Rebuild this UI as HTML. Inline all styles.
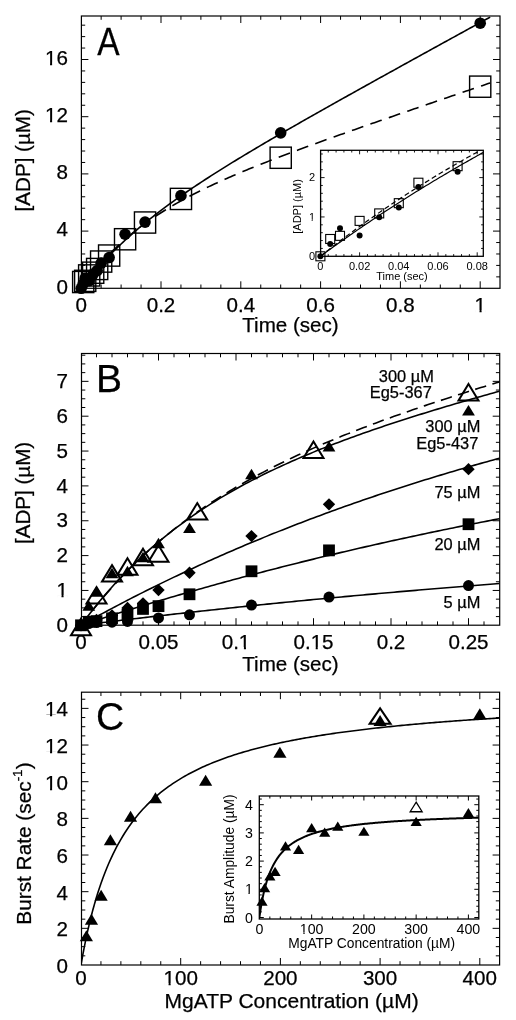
<!DOCTYPE html>
<html><head><meta charset="utf-8"><style>
html,body{margin:0;padding:0;background:#fff;}
svg{display:block;will-change:transform;}
text{font-family:"Liberation Sans", sans-serif;fill:#000;stroke:#000;stroke-width:0.25px;}
</style></head><body>
<svg width="516" height="1020" viewBox="0 0 516 1020">
<rect width="516" height="1020" fill="#fff"/>
<clipPath id="cA"><rect x="81.4" y="16" width="418.6" height="272.3"/></clipPath>
<rect x="81.4" y="16" width="418.6" height="272.3" fill="none" stroke="#000" stroke-width="1.2"/>
<path d="M101.15 288.3v-3.8M101.15 16v3.8M121.1 288.3v-3.8M121.1 16v3.8M141.05 288.3v-3.8M141.05 16v3.8M161 288.3v-7M161 16v7M180.95 288.3v-3.8M180.95 16v3.8M200.9 288.3v-3.8M200.9 16v3.8M220.85 288.3v-3.8M220.85 16v3.8M240.8 288.3v-7M240.8 16v7M260.75 288.3v-3.8M260.75 16v3.8M280.7 288.3v-3.8M280.7 16v3.8M300.65 288.3v-3.8M300.65 16v3.8M320.6 288.3v-7M320.6 16v7M340.55 288.3v-3.8M340.55 16v3.8M360.5 288.3v-3.8M360.5 16v3.8M380.45 288.3v-3.8M380.45 16v3.8M400.4 288.3v-7M400.4 16v7M420.35 288.3v-3.8M420.35 16v3.8M440.3 288.3v-3.8M440.3 16v3.8M460.25 288.3v-3.8M460.25 16v3.8M480.2 288.3v-7M480.2 16v7M81.4 276.86h3.8M500 276.86h-3.8M81.4 265.42h3.8M500 265.42h-3.8M81.4 253.98h3.8M500 253.98h-3.8M81.4 242.54h3.8M500 242.54h-3.8M81.4 231.1h7M500 231.1h-7M81.4 219.66h3.8M500 219.66h-3.8M81.4 208.22h3.8M500 208.22h-3.8M81.4 196.78h3.8M500 196.78h-3.8M81.4 185.34h3.8M500 185.34h-3.8M81.4 173.9h7M500 173.9h-7M81.4 162.46h3.8M500 162.46h-3.8M81.4 151.02h3.8M500 151.02h-3.8M81.4 139.58h3.8M500 139.58h-3.8M81.4 128.14h3.8M500 128.14h-3.8M81.4 116.7h7M500 116.7h-7M81.4 105.26h3.8M500 105.26h-3.8M81.4 93.82h3.8M500 93.82h-3.8M81.4 82.38h3.8M500 82.38h-3.8M81.4 70.94h3.8M500 70.94h-3.8M81.4 59.5h7M500 59.5h-7M81.4 48.06h3.8M500 48.06h-3.8M81.4 36.62h3.8M500 36.62h-3.8M81.4 25.18h3.8M500 25.18h-3.8" stroke="#000" stroke-width="1.0" fill="none"/>
<text x="81.2" y="312" font-size="20.6" text-anchor="middle" >0</text>
<text x="161" y="312" font-size="20.6" text-anchor="middle" >0.2</text>
<text x="240.8" y="312" font-size="20.6" text-anchor="middle" >0.4</text>
<text x="320.6" y="312" font-size="20.6" text-anchor="middle" >0.6</text>
<text x="400.4" y="312" font-size="20.6" text-anchor="middle" >0.8</text>
<text x="480.2" y="312" font-size="20.6" text-anchor="middle" >1</text>
<text x="67.9" y="293.5" font-size="20.6" text-anchor="end" >0</text>
<text x="67.9" y="236.3" font-size="20.6" text-anchor="end" >4</text>
<text x="67.9" y="179.1" font-size="20.6" text-anchor="end" >8</text>
<text x="67.9" y="121.9" font-size="20.6" text-anchor="end" >12</text>
<text x="67.9" y="64.7" font-size="20.6" text-anchor="end" >16</text>
<text x="290.5" y="332" font-size="20.6" text-anchor="middle" >Time (sec)</text>
<text x="0" y="0" font-size="20.6" text-anchor="middle" transform="translate(30.2 160.3) rotate(-90)">[ADP] (µM)</text>
<text x="0" y="0" font-size="39" text-anchor="start" transform="translate(97.3 54.6) scale(0.86 1)" stroke="#000" stroke-width="0.5">A</text>
<path d="M81.2 288.3 L83.2 285.71 L85.19 283.16 L87.19 280.66 L89.18 278.21 L91.18 275.8 L93.17 273.43 L95.17 271.1 L97.16 268.81 L99.16 266.56 L101.15 264.35 L103.15 262.17 L105.14 260.03 L107.14 257.92 L109.13 255.84 L111.12 253.8 L113.12 251.78 L115.12 249.8 L117.11 247.84 L119.11 245.91 L121.1 244 L123.09 242.13 L125.09 240.27 L127.09 238.45 L129.08 236.64 L131.07 234.86 L133.07 233.1 L135.06 231.36 L137.06 229.64 L139.06 227.94 L141.05 226.26 L143.05 224.6 L145.04 222.96 L147.04 221.34 L149.03 219.73 L151.03 218.14 L153.02 216.56 L155.01 215 L157.01 213.45 L159 211.92 L161 210.41 L163 208.9 L164.99 207.41 L166.99 205.93 L168.98 204.47 L170.98 203.01 L172.97 201.57 L174.97 200.14 L176.96 198.72 L178.95 197.31 L180.95 195.91 L182.94 194.52 L184.94 193.14 L186.94 191.77 L188.93 190.4 L190.93 189.05 L192.92 187.7 L194.92 186.37 L196.91 185.04 L198.91 183.71 L200.9 182.4 L202.89 181.09 L204.89 179.79 L206.88 178.49 L208.88 177.21 L210.88 175.92 L212.87 174.65 L214.87 173.38 L216.86 172.11 L218.86 170.85 L220.85 169.6 L222.84 168.35 L224.84 167.1 L226.83 165.87 L228.83 164.63 L230.82 163.4 L232.82 162.17 L234.81 160.95 L236.81 159.74 L238.81 158.52 L240.8 157.31 L242.8 156.11 L244.79 154.9 L246.79 153.7 L248.78 152.51 L250.77 151.32 L252.77 150.13 L254.76 148.94 L256.76 147.76 L258.75 146.58 L260.75 145.4 L262.75 144.22 L264.74 143.05 L266.74 141.88 L268.73 140.71 L270.73 139.55 L272.72 138.38 L274.71 137.22 L276.71 136.07 L278.7 134.91 L280.7 133.75 L282.69 132.6 L284.69 131.45 L286.69 130.3 L288.68 129.15 L290.68 128.01 L292.67 126.86 L294.67 125.72 L296.66 124.58 L298.66 123.44 L300.65 122.3 L302.65 121.17 L304.64 120.03 L306.64 118.9 L308.63 117.76 L310.63 116.63 L312.62 115.5 L314.62 114.37 L316.61 113.25 L318.61 112.12 L320.6 110.99 L322.59 109.87 L324.59 108.74 L326.58 107.62 L328.58 106.5 L330.57 105.38 L332.57 104.26 L334.56 103.14 L336.56 102.02 L338.56 100.9 L340.55 99.79 L342.55 98.67 L344.54 97.55 L346.54 96.44 L348.53 95.32 L350.53 94.21 L352.52 93.1 L354.51 91.98 L356.51 90.87 L358.5 89.76 L360.5 88.65 L362.49 87.54 L364.49 86.43 L366.48 85.32 L368.48 84.21 L370.47 83.1 L372.47 82 L374.46 80.89 L376.46 79.78 L378.45 78.67 L380.45 77.57 L382.44 76.46 L384.44 75.36 L386.44 74.25 L388.43 73.15 L390.43 72.04 L392.42 70.94 L394.42 69.84 L396.41 68.73 L398.41 67.63 L400.4 66.53 L402.39 65.42 L404.39 64.32 L406.38 63.22 L408.38 62.12 L410.38 61.01 L412.37 59.91 L414.36 58.81 L416.36 57.71 L418.35 56.61 L420.35 55.51 L422.34 54.41 L424.34 53.31 L426.33 52.21 L428.33 51.11 L430.32 50.01 L432.32 48.91 L434.31 47.81 L436.31 46.71 L438.31 45.61 L440.3 44.51 L442.3 43.42 L444.29 42.32 L446.29 41.22 L448.28 40.12 L450.28 39.02 L452.27 37.92 L454.26 36.83 L456.26 35.73 L458.25 34.63 L460.25 33.53 L462.25 32.44 L464.24 31.34 L466.23 30.24 L468.23 29.14 L470.22 28.05 L472.22 26.95 L474.21 25.85 L476.21 24.76 L478.2 23.66 L480.2 22.56 L482.2 21.47 L484.19 20.37 L486.19 19.27 L488.18 18.18 L490.17 17.08" stroke="#000" stroke-width="1.6" fill="none" clip-path="url(#cA)"/>
<path d="M81.2 288.3 L83.2 285.49 L85.19 282.75 L87.19 280.08 L89.18 277.46 L91.18 274.92 L93.17 272.43 L95.17 269.99 L97.16 267.62 L99.16 265.3 L101.15 263.03 L103.15 260.81 L105.14 258.64 L107.14 256.52 L109.13 254.45 L111.12 252.42 L113.12 250.43 L115.12 248.49 L117.11 246.58 L119.11 244.72 L121.1 242.89 L123.09 241.1 L125.09 239.35 L127.09 237.63 L129.08 235.94 L131.07 234.29 L133.07 232.66 L135.06 231.07 L137.06 229.51 L139.06 227.97 L141.05 226.46 L143.05 224.98 L145.04 223.53 L147.04 222.09 L149.03 220.69 L151.03 219.3 L153.02 217.94 L155.01 216.61 L157.01 215.29 L159 213.99 L161 212.71 L163 211.45 L164.99 210.22 L166.99 208.99 L168.98 207.79 L170.98 206.6 L172.97 205.43 L174.97 204.28 L176.96 203.14 L178.95 202.01 L180.95 200.9 L182.94 199.8 L184.94 198.72 L186.94 197.65 L188.93 196.59 L190.93 195.55 L192.92 194.51 L194.92 193.49 L196.91 192.48 L198.91 191.48 L200.9 190.49 L202.89 189.51 L204.89 188.53 L206.88 187.57 L208.88 186.62 L210.88 185.68 L212.87 184.74 L214.87 183.82 L216.86 182.9 L218.86 181.99 L220.85 181.08 L222.84 180.19 L224.84 179.3 L226.83 178.42 L228.83 177.54 L230.82 176.67 L232.82 175.81 L234.81 174.95 L236.81 174.1 L238.81 173.25 L240.8 172.41 L242.8 171.58 L244.79 170.75 L246.79 169.92 L248.78 169.1 L250.77 168.28 L252.77 167.47 L254.76 166.66 L256.76 165.86 L258.75 165.06 L260.75 164.27 L262.75 163.48 L264.74 162.69 L266.74 161.9 L268.73 161.12 L270.73 160.35 L272.72 159.57 L274.71 158.8 L276.71 158.03 L278.7 157.27 L280.7 156.5 L282.69 155.74 L284.69 154.99 L286.69 154.23 L288.68 153.48 L290.68 152.73 L292.67 151.98 L294.67 151.24 L296.66 150.5 L298.66 149.76 L300.65 149.02 L302.65 148.28 L304.64 147.55 L306.64 146.81 L308.63 146.08 L310.63 145.35 L312.62 144.62 L314.62 143.9 L316.61 143.17 L318.61 142.45 L320.6 141.73 L322.59 141.01 L324.59 140.29 L326.58 139.57 L328.58 138.86 L330.57 138.14 L332.57 137.43 L334.56 136.72 L336.56 136.01 L338.56 135.29 L340.55 134.59 L342.55 133.88 L344.54 133.17 L346.54 132.46 L348.53 131.76 L350.53 131.05 L352.52 130.35 L354.51 129.65 L356.51 128.95 L358.5 128.25 L360.5 127.55 L362.49 126.85 L364.49 126.15 L366.48 125.45 L368.48 124.75 L370.47 124.06 L372.47 123.36 L374.46 122.66 L376.46 121.97 L378.45 121.27 L380.45 120.58 L382.44 119.89 L384.44 119.2 L386.44 118.5 L388.43 117.81 L390.43 117.12 L392.42 116.43 L394.42 115.74 L396.41 115.05 L398.41 114.36 L400.4 113.67 L402.39 112.98 L404.39 112.29 L406.38 111.61 L408.38 110.92 L410.38 110.23 L412.37 109.54 L414.36 108.86 L416.36 108.17 L418.35 107.49 L420.35 106.8 L422.34 106.11 L424.34 105.43 L426.33 104.74 L428.33 104.06 L430.32 103.38 L432.32 102.69 L434.31 102.01 L436.31 101.32 L438.31 100.64 L440.3 99.96 L442.3 99.27 L444.29 98.59 L446.29 97.91 L448.28 97.23 L450.28 96.54 L452.27 95.86 L454.26 95.18 L456.26 94.5 L458.25 93.82 L460.25 93.13 L462.25 92.45 L464.24 91.77 L466.23 91.09 L468.23 90.41 L470.22 89.73 L472.22 89.05 L474.21 88.37 L476.21 87.69 L478.2 87.01 L480.2 86.33 L482.2 85.65 L484.19 84.97 L486.19 84.29 L488.18 83.61 L490.17 82.93" stroke="#000" stroke-width="1.6" fill="none" stroke-dasharray="12 7.5" stroke-dashoffset="-7" clip-path="url(#cA)"/>
<rect x="72.6" y="271.41" width="21.2" height="21.2" fill="none" stroke="#000" stroke-width="1.4"/>
<rect x="74.59" y="270.26" width="21.2" height="21.2" fill="none" stroke="#000" stroke-width="1.4"/>
<rect x="78.58" y="264.83" width="21.2" height="21.2" fill="none" stroke="#000" stroke-width="1.4"/>
<rect x="82.57" y="262.11" width="21.2" height="21.2" fill="none" stroke="#000" stroke-width="1.4"/>
<rect x="86.56" y="258.39" width="21.2" height="21.2" fill="none" stroke="#000" stroke-width="1.4"/>
<rect x="90.55" y="250.96" width="21.2" height="21.2" fill="none" stroke="#000" stroke-width="1.4"/>
<rect x="98.53" y="244.95" width="21.2" height="21.2" fill="none" stroke="#000" stroke-width="1.4"/>
<rect x="114.49" y="228.65" width="21.2" height="21.2" fill="none" stroke="#000" stroke-width="1.4"/>
<rect x="134.44" y="211.92" width="21.2" height="21.2" fill="none" stroke="#000" stroke-width="1.4"/>
<rect x="170.35" y="188.33" width="21.2" height="21.2" fill="none" stroke="#000" stroke-width="1.4"/>
<rect x="270.1" y="147.14" width="21.2" height="21.2" fill="none" stroke="#000" stroke-width="1.4"/>
<rect x="469.6" y="76.07" width="21.2" height="21.2" fill="none" stroke="#000" stroke-width="1.4"/>
<circle cx="81.2" cy="288.3" r="5.8" fill="#000"/>
<circle cx="83.2" cy="283.87" r="5.8" fill="#000"/>
<circle cx="85.19" cy="278.15" r="5.8" fill="#000"/>
<circle cx="89.18" cy="280.72" r="5.8" fill="#000"/>
<circle cx="93.17" cy="274.14" r="5.8" fill="#000"/>
<circle cx="97.16" cy="270.57" r="5.8" fill="#000"/>
<circle cx="101.15" cy="263.13" r="5.8" fill="#000"/>
<circle cx="109.13" cy="257.56" r="5.8" fill="#000"/>
<circle cx="125.09" cy="234.25" r="5.8" fill="#000"/>
<circle cx="145.04" cy="222.09" r="5.8" fill="#000"/>
<circle cx="180.95" cy="195.64" r="5.8" fill="#000"/>
<circle cx="280.7" cy="132.86" r="5.8" fill="#000"/>
<circle cx="480.2" cy="23.18" r="5.8" fill="#000"/>
<clipPath id="cAi"><rect x="320.6" y="150.3" width="162.7" height="106.0"/></clipPath>
<rect x="320.6" y="150.3" width="162.7" height="106" fill="#fff" stroke="#000" stroke-width="1.3"/>
<path d="M328.24 256.3v-2.2M328.24 150.3v2.2M336.08 256.3v-2.2M336.08 150.3v2.2M343.92 256.3v-2.2M343.92 150.3v2.2M351.76 256.3v-2.2M351.76 150.3v2.2M359.6 256.3v-4M359.6 150.3v4M367.44 256.3v-2.2M367.44 150.3v2.2M375.28 256.3v-2.2M375.28 150.3v2.2M383.12 256.3v-2.2M383.12 150.3v2.2M390.96 256.3v-2.2M390.96 150.3v2.2M398.8 256.3v-4M398.8 150.3v4M406.64 256.3v-2.2M406.64 150.3v2.2M414.48 256.3v-2.2M414.48 150.3v2.2M422.32 256.3v-2.2M422.32 150.3v2.2M430.16 256.3v-2.2M430.16 150.3v2.2M438 256.3v-4M438 150.3v4M445.84 256.3v-2.2M445.84 150.3v2.2M453.68 256.3v-2.2M453.68 150.3v2.2M461.52 256.3v-2.2M461.52 150.3v2.2M469.36 256.3v-2.2M469.36 150.3v2.2M477.2 256.3v-4M477.2 150.3v4M320.6 248.43h2.2M483.3 248.43h-2.2M320.6 240.56h2.2M483.3 240.56h-2.2M320.6 232.69h2.2M483.3 232.69h-2.2M320.6 224.82h2.2M483.3 224.82h-2.2M320.6 216.95h4M483.3 216.95h-4M320.6 209.08h2.2M483.3 209.08h-2.2M320.6 201.21h2.2M483.3 201.21h-2.2M320.6 193.34h2.2M483.3 193.34h-2.2M320.6 185.47h2.2M483.3 185.47h-2.2M320.6 177.6h4M483.3 177.6h-4M320.6 169.73h2.2M483.3 169.73h-2.2M320.6 161.86h2.2M483.3 161.86h-2.2M320.6 153.99h2.2M483.3 153.99h-2.2" stroke="#000" stroke-width="0.9" fill="none"/>
<text x="320.4" y="269.9" font-size="11" text-anchor="middle"  style="stroke:none">0</text>
<text x="359.6" y="269.9" font-size="11" text-anchor="middle"  style="stroke:none">0.02</text>
<text x="398.8" y="269.9" font-size="11" text-anchor="middle"  style="stroke:none">0.04</text>
<text x="438" y="269.9" font-size="11" text-anchor="middle"  style="stroke:none">0.06</text>
<text x="477.2" y="269.9" font-size="11" text-anchor="middle"  style="stroke:none">0.08</text>
<text x="315" y="260" font-size="11" text-anchor="end"  style="stroke:none">0</text>
<text x="315" y="220.65" font-size="11" text-anchor="end"  style="stroke:none">1</text>
<text x="315" y="181.3" font-size="11" text-anchor="end"  style="stroke:none">2</text>
<text x="402" y="279.5" font-size="11" text-anchor="middle"  style="stroke:none">Time (sec)</text>
<text x="0" y="0" font-size="11" text-anchor="middle" transform="translate(300.8 206.4) rotate(-90)" style="stroke:none">[ADP] (µM)</text>
<path d="M320.4 256.3 L322.36 254.86 L324.32 253.43 L326.28 252 L328.24 250.58 L330.2 249.17 L332.16 247.75 L334.12 246.35 L336.08 244.95 L338.04 243.55 L340 242.16 L341.96 240.78 L343.92 239.4 L345.88 238.02 L347.84 236.65 L349.8 235.29 L351.76 233.93 L353.72 232.57 L355.68 231.22 L357.64 229.87 L359.6 228.53 L361.56 227.2 L363.52 225.87 L365.48 224.54 L367.44 223.22 L369.4 221.9 L371.36 220.59 L373.32 219.28 L375.28 217.98 L377.24 216.68 L379.2 215.38 L381.16 214.09 L383.12 212.81 L385.08 211.53 L387.04 210.25 L389 208.98 L390.96 207.71 L392.92 206.45 L394.88 205.19 L396.84 203.93 L398.8 202.68 L400.76 201.43 L402.72 200.19 L404.68 198.95 L406.64 197.72 L408.6 196.49 L410.56 195.26 L412.52 194.04 L414.48 192.82 L416.44 191.61 L418.4 190.4 L420.36 189.19 L422.32 187.99 L424.28 186.79 L426.24 185.6 L428.2 184.41 L430.16 183.22 L432.12 182.04 L434.08 180.86 L436.04 179.68 L438 178.51 L439.96 177.34 L441.92 176.18 L443.88 175.01 L445.84 173.86 L447.8 172.7 L449.76 171.55 L451.72 170.41 L453.68 169.26 L455.64 168.12 L457.6 166.99 L459.56 165.85 L461.52 164.72 L463.48 163.6 L465.44 162.48 L467.4 161.36 L469.36 160.24 L471.32 159.13 L473.28 158.02 L475.24 156.91 L477.2 155.81 L479.16 154.71 L481.12 153.62 L483.08 152.52 L485.04 151.43 L487 150.35 L488.96 149.26 L490.92 148.18 L492.88 147.1 L494.84 146.03" stroke="#000" stroke-width="1.2" fill="none" clip-path="url(#cAi)"/>
<path d="M320.4 256.3 L322.36 254.74 L324.32 253.19 L326.28 251.64 L328.24 250.1 L330.2 248.57 L332.16 247.05 L334.12 245.53 L336.08 244.02 L338.04 242.52 L340 241.03 L341.96 239.54 L343.92 238.06 L345.88 236.59 L347.84 235.13 L349.8 233.67 L351.76 232.22 L353.72 230.77 L355.68 229.34 L357.64 227.91 L359.6 226.48 L361.56 225.07 L363.52 223.66 L365.48 222.25 L367.44 220.86 L369.4 219.47 L371.36 218.09 L373.32 216.71 L375.28 215.34 L377.24 213.98 L379.2 212.62 L381.16 211.27 L383.12 209.92 L385.08 208.59 L387.04 207.25 L389 205.93 L390.96 204.61 L392.92 203.3 L394.88 201.99 L396.84 200.69 L398.8 199.39 L400.76 198.1 L402.72 196.82 L404.68 195.54 L406.64 194.27 L408.6 193 L410.56 191.75 L412.52 190.49 L414.48 189.24 L416.44 188 L418.4 186.76 L420.36 185.53 L422.32 184.31 L424.28 183.09 L426.24 181.87 L428.2 180.66 L430.16 179.46 L432.12 178.26 L434.08 177.06 L436.04 175.88 L438 174.69 L439.96 173.52 L441.92 172.34 L443.88 171.18 L445.84 170.02 L447.8 168.86 L449.76 167.71 L451.72 166.56 L453.68 165.42 L455.64 164.28 L457.6 163.15 L459.56 162.02 L461.52 160.9 L463.48 159.78 L465.44 158.67 L467.4 157.56 L469.36 156.46 L471.32 155.36 L473.28 154.27 L475.24 153.18 L477.2 152.1 L479.16 151.02 L481.12 149.94 L483.08 148.87 L485.04 147.81 L487 146.75 L488.96 145.69 L490.92 144.64 L492.88 143.59 L494.84 142.55" stroke="#000" stroke-width="1.2" fill="none" stroke-dasharray="5 3" stroke-dashoffset="0" clip-path="url(#cAi)"/>
<rect x="315.9" y="251.8" width="9" height="9" fill="none" stroke="#000" stroke-width="1.1"/>
<rect x="325.7" y="234.49" width="9" height="9" fill="none" stroke="#000" stroke-width="1.1"/>
<rect x="335.5" y="231.34" width="9" height="9" fill="none" stroke="#000" stroke-width="1.1"/>
<rect x="355.1" y="216.39" width="9" height="9" fill="none" stroke="#000" stroke-width="1.1"/>
<rect x="374.7" y="208.91" width="9" height="9" fill="none" stroke="#000" stroke-width="1.1"/>
<rect x="394.3" y="198.68" width="9" height="9" fill="none" stroke="#000" stroke-width="1.1"/>
<rect x="413.9" y="178.22" width="9" height="9" fill="none" stroke="#000" stroke-width="1.1"/>
<rect x="453.1" y="161.69" width="9" height="9" fill="none" stroke="#000" stroke-width="1.1"/>
<circle cx="320.4" cy="256.3" r="3" fill="#000"/>
<circle cx="330.2" cy="244.1" r="3" fill="#000"/>
<circle cx="340" cy="228.36" r="3" fill="#000"/>
<circle cx="359.6" cy="235.44" r="3" fill="#000"/>
<circle cx="379.2" cy="217.34" r="3" fill="#000"/>
<circle cx="398.8" cy="207.51" r="3" fill="#000"/>
<circle cx="418.4" cy="187.04" r="3" fill="#000"/>
<circle cx="457.6" cy="171.7" r="3" fill="#000"/>
<clipPath id="cB"><rect x="81.5" y="353.5" width="418.2" height="271.70000000000005"/></clipPath>
<rect x="81.5" y="353.5" width="418.2" height="271.7" fill="none" stroke="#000" stroke-width="1.2"/>
<path d="M96.5 625.2v-3.8M96.5 353.5v3.8M112 625.2v-3.8M112 353.5v3.8M127.5 625.2v-3.8M127.5 353.5v3.8M143 625.2v-3.8M143 353.5v3.8M158.5 625.2v-7M158.5 353.5v7M174 625.2v-3.8M174 353.5v3.8M189.5 625.2v-3.8M189.5 353.5v3.8M205 625.2v-3.8M205 353.5v3.8M220.5 625.2v-3.8M220.5 353.5v3.8M236 625.2v-7M236 353.5v7M251.5 625.2v-3.8M251.5 353.5v3.8M267 625.2v-3.8M267 353.5v3.8M282.5 625.2v-3.8M282.5 353.5v3.8M298 625.2v-3.8M298 353.5v3.8M313.5 625.2v-7M313.5 353.5v7M329 625.2v-3.8M329 353.5v3.8M344.5 625.2v-3.8M344.5 353.5v3.8M360 625.2v-3.8M360 353.5v3.8M375.5 625.2v-3.8M375.5 353.5v3.8M391 625.2v-7M391 353.5v7M406.5 625.2v-3.8M406.5 353.5v3.8M422 625.2v-3.8M422 353.5v3.8M437.5 625.2v-3.8M437.5 353.5v3.8M453 625.2v-3.8M453 353.5v3.8M468.5 625.2v-7M468.5 353.5v7M484 625.2v-3.8M484 353.5v3.8M81.5 616.59h3.8M499.7 616.59h-3.8M81.5 607.88h3.8M499.7 607.88h-3.8M81.5 599.16h3.8M499.7 599.16h-3.8M81.5 590.45h7M499.7 590.45h-7M81.5 581.74h3.8M499.7 581.74h-3.8M81.5 573.02h3.8M499.7 573.02h-3.8M81.5 564.31h3.8M499.7 564.31h-3.8M81.5 555.6h7M499.7 555.6h-7M81.5 546.89h3.8M499.7 546.89h-3.8M81.5 538.17h3.8M499.7 538.17h-3.8M81.5 529.46h3.8M499.7 529.46h-3.8M81.5 520.75h7M499.7 520.75h-7M81.5 512.04h3.8M499.7 512.04h-3.8M81.5 503.32h3.8M499.7 503.32h-3.8M81.5 494.61h3.8M499.7 494.61h-3.8M81.5 485.9h7M499.7 485.9h-7M81.5 477.19h3.8M499.7 477.19h-3.8M81.5 468.47h3.8M499.7 468.47h-3.8M81.5 459.76h3.8M499.7 459.76h-3.8M81.5 451.05h7M499.7 451.05h-7M81.5 442.34h3.8M499.7 442.34h-3.8M81.5 433.62h3.8M499.7 433.62h-3.8M81.5 424.91h3.8M499.7 424.91h-3.8M81.5 416.2h7M499.7 416.2h-7M81.5 407.49h3.8M499.7 407.49h-3.8M81.5 398.77h3.8M499.7 398.77h-3.8M81.5 390.06h3.8M499.7 390.06h-3.8M81.5 381.35h7M499.7 381.35h-7M81.5 372.64h3.8M499.7 372.64h-3.8M81.5 363.92h3.8M499.7 363.92h-3.8M81.5 355.21h3.8M499.7 355.21h-3.8" stroke="#000" stroke-width="1.0" fill="none"/>
<text x="81" y="649" font-size="20.6" text-anchor="middle" >0</text>
<text x="158.5" y="649" font-size="20.6" text-anchor="middle" >0.05</text>
<text x="236" y="649" font-size="20.6" text-anchor="middle" >0.1</text>
<text x="313.5" y="649" font-size="20.6" text-anchor="middle" >0.15</text>
<text x="391" y="649" font-size="20.6" text-anchor="middle" >0.2</text>
<text x="468.5" y="649" font-size="20.6" text-anchor="middle" >0.25</text>
<text x="67.9" y="631.9" font-size="20.6" text-anchor="end" >0</text>
<text x="67.9" y="597.05" font-size="20.6" text-anchor="end" >1</text>
<text x="67.9" y="562.2" font-size="20.6" text-anchor="end" >2</text>
<text x="67.9" y="527.35" font-size="20.6" text-anchor="end" >3</text>
<text x="67.9" y="492.5" font-size="20.6" text-anchor="end" >4</text>
<text x="67.9" y="457.65" font-size="20.6" text-anchor="end" >5</text>
<text x="67.9" y="422.8" font-size="20.6" text-anchor="end" >6</text>
<text x="67.9" y="387.95" font-size="20.6" text-anchor="end" >7</text>
<text x="290.5" y="671.4" font-size="20.6" text-anchor="middle" >Time (sec)</text>
<text x="0" y="0" font-size="20.6" text-anchor="middle" transform="translate(30 492.9) rotate(-90)">[ADP] (µM)</text>
<text x="96" y="391.6" font-size="39" text-anchor="start" stroke="#000" stroke-width="0.4">B</text>
<path d="M81 625.3 L84.1 624.91 L87.2 624.52 L90.3 624.13 L93.4 623.74 L96.5 623.35 L99.6 622.97 L102.7 622.58 L105.8 622.2 L108.9 621.82 L112 621.44 L115.1 621.06 L118.2 620.69 L121.3 620.31 L124.4 619.94 L127.5 619.57 L130.6 619.19 L133.7 618.82 L136.8 618.46 L139.9 618.09 L143 617.72 L146.1 617.36 L149.2 617 L152.3 616.63 L155.4 616.27 L158.5 615.92 L161.6 615.56 L164.7 615.2 L167.8 614.85 L170.9 614.49 L174 614.14 L177.1 613.79 L180.2 613.44 L183.3 613.09 L186.4 612.75 L189.5 612.4 L192.6 612.05 L195.7 611.71 L198.8 611.37 L201.9 611.03 L205 610.69 L208.1 610.35 L211.2 610.01 L214.3 609.68 L217.4 609.34 L220.5 609.01 L223.6 608.68 L226.7 608.35 L229.8 608.02 L232.9 607.69 L236 607.36 L239.1 607.04 L242.2 606.71 L245.3 606.39 L248.4 606.07 L251.5 605.75 L254.6 605.43 L257.7 605.11 L260.8 604.79 L263.9 604.47 L267 604.16 L270.1 603.84 L273.2 603.53 L276.3 603.22 L279.4 602.91 L282.5 602.6 L285.6 602.29 L288.7 601.98 L291.8 601.68 L294.9 601.37 L298 601.07 L301.1 600.77 L304.2 600.47 L307.3 600.17 L310.4 599.87 L313.5 599.57 L316.6 599.27 L319.7 598.98 L322.8 598.68 L325.9 598.39 L329 598.09 L332.1 597.8 L335.2 597.51 L338.3 597.22 L341.4 596.93 L344.5 596.65 L347.6 596.36 L350.7 596.08 L353.8 595.79 L356.9 595.51 L360 595.23 L363.1 594.95 L366.2 594.67 L369.3 594.39 L372.4 594.11 L375.5 593.83 L378.6 593.56 L381.7 593.28 L384.8 593.01 L387.9 592.74 L391 592.46 L394.1 592.19 L397.2 591.92 L400.3 591.65 L403.4 591.39 L406.5 591.12 L409.6 590.85 L412.7 590.59 L415.8 590.33 L418.9 590.06 L422 589.8 L425.1 589.54 L428.2 589.28 L431.3 589.02 L434.4 588.76 L437.5 588.51 L440.6 588.25 L443.7 588 L446.8 587.74 L449.9 587.49 L453 587.24 L456.1 586.99 L459.2 586.73 L462.3 586.49 L465.4 586.24 L468.5 585.99 L471.6 585.74 L474.7 585.5 L477.8 585.25 L480.9 585.01 L484 584.76 L487.1 584.52 L490.2 584.28 L493.3 584.04 L496.4 583.8 L499.5 583.56" stroke="#000" stroke-width="1.6" fill="none" clip-path="url(#cB)"/>
<path d="M81 625.3 L84.1 624.28 L87.2 623.27 L90.3 622.25 L93.4 621.25 L96.5 620.24 L99.6 619.24 L102.7 618.25 L105.8 617.26 L108.9 616.27 L112 615.29 L115.1 614.31 L118.2 613.33 L121.3 612.36 L124.4 611.39 L127.5 610.43 L130.6 609.47 L133.7 608.51 L136.8 607.56 L139.9 606.61 L143 605.67 L146.1 604.72 L149.2 603.79 L152.3 602.85 L155.4 601.92 L158.5 601 L161.6 600.07 L164.7 599.16 L167.8 598.24 L170.9 597.33 L174 596.42 L177.1 595.52 L180.2 594.62 L183.3 593.72 L186.4 592.83 L189.5 591.94 L192.6 591.05 L195.7 590.17 L198.8 589.29 L201.9 588.41 L205 587.54 L208.1 586.67 L211.2 585.8 L214.3 584.94 L217.4 584.08 L220.5 583.23 L223.6 582.38 L226.7 581.53 L229.8 580.68 L232.9 579.84 L236 579 L239.1 578.17 L242.2 577.34 L245.3 576.51 L248.4 575.68 L251.5 574.86 L254.6 574.04 L257.7 573.23 L260.8 572.42 L263.9 571.61 L267 570.8 L270.1 570 L273.2 569.2 L276.3 568.4 L279.4 567.61 L282.5 566.82 L285.6 566.04 L288.7 565.25 L291.8 564.47 L294.9 563.7 L298 562.92 L301.1 562.15 L304.2 561.38 L307.3 560.62 L310.4 559.86 L313.5 559.1 L316.6 558.34 L319.7 557.59 L322.8 556.84 L325.9 556.09 L329 555.35 L332.1 554.61 L335.2 553.87 L338.3 553.14 L341.4 552.4 L344.5 551.68 L347.6 550.95 L350.7 550.23 L353.8 549.51 L356.9 548.79 L360 548.07 L363.1 547.36 L366.2 546.65 L369.3 545.95 L372.4 545.24 L375.5 544.54 L378.6 543.85 L381.7 543.15 L384.8 542.46 L387.9 541.77 L391 541.08 L394.1 540.4 L397.2 539.72 L400.3 539.04 L403.4 538.36 L406.5 537.69 L409.6 537.02 L412.7 536.35 L415.8 535.69 L418.9 535.03 L422 534.37 L425.1 533.71 L428.2 533.06 L431.3 532.4 L434.4 531.75 L437.5 531.11 L440.6 530.46 L443.7 529.82 L446.8 529.18 L449.9 528.55 L453 527.91 L456.1 527.28 L459.2 526.65 L462.3 526.03 L465.4 525.4 L468.5 524.78 L471.6 524.16 L474.7 523.55 L477.8 522.93 L480.9 522.32 L484 521.71 L487.1 521.1 L490.2 520.5 L493.3 519.9 L496.4 519.3 L499.5 518.7" stroke="#000" stroke-width="1.6" fill="none" clip-path="url(#cB)"/>
<path d="M81 625.3 L84.1 623.57 L87.2 621.84 L90.3 620.13 L93.4 618.42 L96.5 616.73 L99.6 615.04 L102.7 613.36 L105.8 611.69 L108.9 610.03 L112 608.38 L115.1 606.74 L118.2 605.1 L121.3 603.48 L124.4 601.86 L127.5 600.25 L130.6 598.65 L133.7 597.06 L136.8 595.48 L139.9 593.91 L143 592.34 L146.1 590.78 L149.2 589.24 L152.3 587.7 L155.4 586.16 L158.5 584.64 L161.6 583.12 L164.7 581.61 L167.8 580.11 L170.9 578.62 L174 577.14 L177.1 575.66 L180.2 574.19 L183.3 572.73 L186.4 571.28 L189.5 569.84 L192.6 568.4 L195.7 566.97 L198.8 565.55 L201.9 564.13 L205 562.73 L208.1 561.33 L211.2 559.94 L214.3 558.55 L217.4 557.18 L220.5 555.81 L223.6 554.44 L226.7 553.09 L229.8 551.74 L232.9 550.4 L236 549.07 L239.1 547.74 L242.2 546.42 L245.3 545.11 L248.4 543.8 L251.5 542.51 L254.6 541.21 L257.7 539.93 L260.8 538.65 L263.9 537.38 L267 536.12 L270.1 534.86 L273.2 533.61 L276.3 532.37 L279.4 531.13 L282.5 529.9 L285.6 528.67 L288.7 527.46 L291.8 526.25 L294.9 525.04 L298 523.84 L301.1 522.65 L304.2 521.47 L307.3 520.29 L310.4 519.11 L313.5 517.95 L316.6 516.79 L319.7 515.63 L322.8 514.48 L325.9 513.34 L329 512.21 L332.1 511.08 L335.2 509.95 L338.3 508.84 L341.4 507.72 L344.5 506.62 L347.6 505.52 L350.7 504.42 L353.8 503.34 L356.9 502.25 L360 501.18 L363.1 500.11 L366.2 499.04 L369.3 497.98 L372.4 496.93 L375.5 495.88 L378.6 494.84 L381.7 493.8 L384.8 492.77 L387.9 491.74 L391 490.72 L394.1 489.71 L397.2 488.7 L400.3 487.69 L403.4 486.69 L406.5 485.7 L409.6 484.71 L412.7 483.73 L415.8 482.75 L418.9 481.78 L422 480.81 L425.1 479.85 L428.2 478.89 L431.3 477.94 L434.4 476.99 L437.5 476.05 L440.6 475.11 L443.7 474.18 L446.8 473.26 L449.9 472.33 L453 471.42 L456.1 470.51 L459.2 469.6 L462.3 468.7 L465.4 467.8 L468.5 466.9 L471.6 466.02 L474.7 465.13 L477.8 464.26 L480.9 463.38 L484 462.51 L487.1 461.65 L490.2 460.79 L493.3 459.93 L496.4 459.08 L499.5 458.23" stroke="#000" stroke-width="1.6" fill="none" clip-path="url(#cB)"/>
<path d="M81 625.3 L84.1 621.1 L87.2 616.98 L90.3 612.95 L93.4 609 L96.5 605.14 L99.6 601.35 L102.7 597.63 L105.8 594 L108.9 590.43 L112 586.94 L115.1 583.51 L118.2 580.15 L121.3 576.86 L124.4 573.63 L127.5 570.46 L130.6 567.36 L133.7 564.31 L136.8 561.32 L139.9 558.39 L143 555.51 L146.1 552.69 L149.2 549.92 L152.3 547.2 L155.4 544.53 L158.5 541.9 L161.6 539.33 L164.7 536.8 L167.8 534.31 L170.9 531.87 L174 529.47 L177.1 527.12 L180.2 524.8 L183.3 522.52 L186.4 520.28 L189.5 518.08 L192.6 515.91 L195.7 513.78 L198.8 511.69 L201.9 509.63 L205 507.6 L208.1 505.6 L211.2 503.64 L214.3 501.71 L217.4 499.8 L220.5 497.93 L223.6 496.08 L226.7 494.26 L229.8 492.47 L232.9 490.7 L236 488.96 L239.1 487.24 L242.2 485.55 L245.3 483.89 L248.4 482.24 L251.5 480.62 L254.6 479.02 L257.7 477.44 L260.8 475.88 L263.9 474.34 L267 472.83 L270.1 471.33 L273.2 469.85 L276.3 468.39 L279.4 466.94 L282.5 465.52 L285.6 464.11 L288.7 462.71 L291.8 461.34 L294.9 459.98 L298 458.63 L301.1 457.3 L304.2 455.98 L307.3 454.68 L310.4 453.4 L313.5 452.12 L316.6 450.86 L319.7 449.61 L322.8 448.38 L325.9 447.15 L329 445.94 L332.1 444.74 L335.2 443.55 L338.3 442.38 L341.4 441.21 L344.5 440.05 L347.6 438.91 L350.7 437.77 L353.8 436.64 L356.9 435.53 L360 434.42 L363.1 433.32 L366.2 432.23 L369.3 431.15 L372.4 430.07 L375.5 429.01 L378.6 427.95 L381.7 426.9 L384.8 425.86 L387.9 424.83 L391 423.8 L394.1 422.78 L397.2 421.76 L400.3 420.76 L403.4 419.76 L406.5 418.76 L409.6 417.77 L412.7 416.79 L415.8 415.81 L418.9 414.84 L422 413.88 L425.1 412.92 L428.2 411.96 L431.3 411.02 L434.4 410.07 L437.5 409.13 L440.6 408.2 L443.7 407.27 L446.8 406.34 L449.9 405.42 L453 404.5 L456.1 403.59 L459.2 402.68 L462.3 401.78 L465.4 400.88 L468.5 399.98 L471.6 399.09 L474.7 398.2 L477.8 397.31 L480.9 396.43 L484 395.55 L487.1 394.67 L490.2 393.8 L493.3 392.93 L496.4 392.06 L499.5 391.2" stroke="#000" stroke-width="1.6" fill="none" clip-path="url(#cB)"/>
<path d="M81 625.3 L84.1 621.17 L87.2 617.12 L90.3 613.15 L93.4 609.26 L96.5 605.44 L99.6 601.69 L102.7 598.01 L105.8 594.39 L108.9 590.85 L112 587.37 L115.1 583.95 L118.2 580.6 L121.3 577.31 L124.4 574.07 L127.5 570.9 L130.6 567.78 L133.7 564.71 L136.8 561.7 L139.9 558.74 L143 555.83 L146.1 552.98 L149.2 550.17 L152.3 547.41 L155.4 544.69 L158.5 542.02 L161.6 539.4 L164.7 536.82 L167.8 534.28 L170.9 531.78 L174 529.32 L177.1 526.9 L180.2 524.52 L183.3 522.18 L186.4 519.87 L189.5 517.6 L192.6 515.36 L195.7 513.16 L198.8 510.99 L201.9 508.85 L205 506.75 L208.1 504.67 L211.2 502.63 L214.3 500.61 L217.4 498.63 L220.5 496.67 L223.6 494.74 L226.7 492.83 L229.8 490.96 L232.9 489.1 L236 487.27 L239.1 485.47 L242.2 483.69 L245.3 481.93 L248.4 480.2 L251.5 478.49 L254.6 476.79 L257.7 475.12 L260.8 473.47 L263.9 471.84 L267 470.23 L270.1 468.64 L273.2 467.07 L276.3 465.51 L279.4 463.98 L282.5 462.46 L285.6 460.95 L288.7 459.47 L291.8 457.99 L294.9 456.54 L298 455.1 L301.1 453.67 L304.2 452.26 L307.3 450.87 L310.4 449.49 L313.5 448.12 L316.6 446.76 L319.7 445.42 L322.8 444.09 L325.9 442.77 L329 441.47 L332.1 440.17 L335.2 438.89 L338.3 437.62 L341.4 436.36 L344.5 435.11 L347.6 433.87 L350.7 432.64 L353.8 431.42 L356.9 430.21 L360 429.01 L363.1 427.82 L366.2 426.64 L369.3 425.46 L372.4 424.3 L375.5 423.14 L378.6 421.99 L381.7 420.85 L384.8 419.72 L387.9 418.6 L391 417.48 L394.1 416.37 L397.2 415.26 L400.3 414.17 L403.4 413.08 L406.5 411.99 L409.6 410.92 L412.7 409.85 L415.8 408.78 L418.9 407.72 L422 406.67 L425.1 405.63 L428.2 404.58 L431.3 403.55 L434.4 402.52 L437.5 401.49 L440.6 400.47 L443.7 399.46 L446.8 398.44 L449.9 397.44 L453 396.44 L456.1 395.44 L459.2 394.45 L462.3 393.46 L465.4 392.47 L468.5 391.49 L471.6 390.52 L474.7 389.54 L477.8 388.57 L480.9 387.61 L484 386.65 L487.1 385.69 L490.2 384.74 L493.3 383.78 L496.4 382.84 L499.5 381.89" stroke="#000" stroke-width="1.6" fill="none" stroke-dasharray="11.5 6.5" stroke-dashoffset="0" clip-path="url(#cB)"/>
<text x="433.8" y="381.7" font-size="16.4" text-anchor="end" >300 µM</text>
<text x="431.8" y="397.7" font-size="16.4" text-anchor="end" >Eg5-367</text>
<text x="480.3" y="432.4" font-size="16.4" text-anchor="end" >300 µM</text>
<text x="478.3" y="448.8" font-size="16.4" text-anchor="end" >Eg5-437</text>
<text x="480.3" y="497.6" font-size="16.4" text-anchor="end" >75 µM</text>
<text x="480.3" y="550.2" font-size="16.4" text-anchor="end" >20 µM</text>
<text x="480.3" y="607.6" font-size="16.4" text-anchor="end" >5 µM</text>
<circle cx="81" cy="625.3" r="5.5" fill="#000"/>
<circle cx="88.75" cy="623.56" r="5.5" fill="#000"/>
<circle cx="96.5" cy="622.51" r="5.5" fill="#000"/>
<circle cx="112" cy="622.16" r="5.5" fill="#000"/>
<circle cx="127.5" cy="621.47" r="5.5" fill="#000"/>
<circle cx="158.5" cy="617.98" r="5.5" fill="#000"/>
<circle cx="189.5" cy="614.84" r="5.5" fill="#000"/>
<circle cx="251.5" cy="605.09" r="5.5" fill="#000"/>
<circle cx="329" cy="597.07" r="5.5" fill="#000"/>
<circle cx="468.5" cy="585.57" r="5.5" fill="#000"/>
<rect x="75.1" y="619.4" width="11.8" height="11.8" fill="#000"/>
<rect x="82.85" y="615.91" width="11.8" height="11.8" fill="#000"/>
<rect x="90.6" y="615.22" width="11.8" height="11.8" fill="#000"/>
<rect x="106.1" y="612.43" width="11.8" height="11.8" fill="#000"/>
<rect x="121.6" y="608.94" width="11.8" height="11.8" fill="#000"/>
<rect x="137.1" y="603.02" width="11.8" height="11.8" fill="#000"/>
<rect x="152.6" y="600.23" width="11.8" height="11.8" fill="#000"/>
<rect x="183.6" y="588.38" width="11.8" height="11.8" fill="#000"/>
<rect x="245.6" y="565.38" width="11.8" height="11.8" fill="#000"/>
<rect x="323.1" y="544.47" width="11.8" height="11.8" fill="#000"/>
<rect x="462.6" y="518.33" width="11.8" height="11.8" fill="#000"/>
<polygon points="81,619.1 87.2,625.3 81,631.5 74.8,625.3" fill="#000"/>
<polygon points="88.75,614.92 94.95,621.12 88.75,627.32 82.55,621.12" fill="#000"/>
<polygon points="96.5,613.87 102.7,620.07 96.5,626.27 90.3,620.07" fill="#000"/>
<polygon points="112,609.34 118.2,615.54 112,621.74 105.8,615.54" fill="#000"/>
<polygon points="127.5,601.67 133.7,607.88 127.5,614.08 121.3,607.88" fill="#000"/>
<polygon points="143,597.14 149.2,603.34 143,609.54 136.8,603.34" fill="#000"/>
<polygon points="158.5,583.9 164.7,590.1 158.5,596.3 152.3,590.1" fill="#000"/>
<polygon points="189.5,566.48 195.7,572.68 189.5,578.88 183.3,572.68" fill="#000"/>
<polygon points="251.5,529.88 257.7,536.08 251.5,542.28 245.3,536.08" fill="#000"/>
<polygon points="329,498.17 335.2,504.37 329,510.57 322.8,504.37" fill="#000"/>
<polygon points="468.5,462.97 474.7,469.17 468.5,475.37 462.3,469.17" fill="#000"/>
<polygon points="81,620 87.4,630.6 74.6,630.6" fill="#000"/>
<polygon points="88.75,600.14 95.15,610.74 82.35,610.74" fill="#000"/>
<polygon points="96.5,586.2 102.9,596.8 90.1,596.8" fill="#000"/>
<polygon points="112,567.73 118.4,578.32 105.6,578.32" fill="#000"/>
<polygon points="127.5,565.63 133.9,576.23 121.1,576.23" fill="#000"/>
<polygon points="143,551.69 149.4,562.29 136.6,562.29" fill="#000"/>
<polygon points="158.5,537.75 164.9,548.35 152.1,548.35" fill="#000"/>
<polygon points="189.5,522.42 195.9,533.02 183.1,533.02" fill="#000"/>
<polygon points="251.5,468.75 257.9,479.35 245.1,479.35" fill="#000"/>
<polygon points="329,440.87 335.4,451.47 322.6,451.47" fill="#000"/>
<polygon points="468.5,404.98 474.9,415.58 462.1,415.58" fill="#000"/>
<polygon points="81,618.79 91,635.29 71,635.29" fill="none" stroke="#000" stroke-width="2" stroke-linejoin="miter"/>
<polygon points="96.5,587.08 106.5,603.58 86.5,603.58" fill="none" stroke="#000" stroke-width="2" stroke-linejoin="miter"/>
<polygon points="112,565.12 122,581.62 102,581.62" fill="none" stroke="#000" stroke-width="2" stroke-linejoin="miter"/>
<polygon points="127.5,558.15 137.5,574.65 117.5,574.65" fill="none" stroke="#000" stroke-width="2" stroke-linejoin="miter"/>
<polygon points="143,548.74 153,565.24 133,565.24" fill="none" stroke="#000" stroke-width="2" stroke-linejoin="miter"/>
<polygon points="158.5,545.26 168.5,561.76 148.5,561.76" fill="none" stroke="#000" stroke-width="2" stroke-linejoin="miter"/>
<polygon points="197.25,503.09 207.25,519.59 187.25,519.59" fill="none" stroke="#000" stroke-width="2" stroke-linejoin="miter"/>
<polygon points="313.5,441.41 323.5,457.91 303.5,457.91" fill="none" stroke="#000" stroke-width="2" stroke-linejoin="miter"/>
<polygon points="468.5,383.9 478.5,400.4 458.5,400.4" fill="none" stroke="#000" stroke-width="2" stroke-linejoin="miter"/>
<clipPath id="cC"><rect x="81.5" y="692.2" width="418.1" height="272.79999999999995"/></clipPath>
<rect x="81.5" y="692.2" width="418.1" height="272.8" fill="none" stroke="#000" stroke-width="1.2"/>
<path d="M100.94 965v-3.8M100.94 692.2v3.8M120.88 965v-3.8M120.88 692.2v3.8M140.82 965v-3.8M140.82 692.2v3.8M160.76 965v-3.8M160.76 692.2v3.8M180.7 965v-7M180.7 692.2v7M200.64 965v-3.8M200.64 692.2v3.8M220.58 965v-3.8M220.58 692.2v3.8M240.52 965v-3.8M240.52 692.2v3.8M260.46 965v-3.8M260.46 692.2v3.8M280.4 965v-7M280.4 692.2v7M300.34 965v-3.8M300.34 692.2v3.8M320.28 965v-3.8M320.28 692.2v3.8M340.22 965v-3.8M340.22 692.2v3.8M360.16 965v-3.8M360.16 692.2v3.8M380.1 965v-7M380.1 692.2v7M400.04 965v-3.8M400.04 692.2v3.8M419.98 965v-3.8M419.98 692.2v3.8M439.92 965v-3.8M439.92 692.2v3.8M459.86 965v-3.8M459.86 692.2v3.8M479.8 965v-7M479.8 692.2v7M81.5 955.84h3.8M499.6 955.84h-3.8M81.5 946.67h3.8M499.6 946.67h-3.8M81.5 937.5h3.8M499.6 937.5h-3.8M81.5 928.34h7M499.6 928.34h-7M81.5 919.17h3.8M499.6 919.17h-3.8M81.5 910.01h3.8M499.6 910.01h-3.8M81.5 900.85h3.8M499.6 900.85h-3.8M81.5 891.68h7M499.6 891.68h-7M81.5 882.51h3.8M499.6 882.51h-3.8M81.5 873.35h3.8M499.6 873.35h-3.8M81.5 864.18h3.8M499.6 864.18h-3.8M81.5 855.02h7M499.6 855.02h-7M81.5 845.86h3.8M499.6 845.86h-3.8M81.5 836.69h3.8M499.6 836.69h-3.8M81.5 827.52h3.8M499.6 827.52h-3.8M81.5 818.36h7M499.6 818.36h-7M81.5 809.2h3.8M499.6 809.2h-3.8M81.5 800.03h3.8M499.6 800.03h-3.8M81.5 790.87h3.8M499.6 790.87h-3.8M81.5 781.7h7M499.6 781.7h-7M81.5 772.54h3.8M499.6 772.54h-3.8M81.5 763.37h3.8M499.6 763.37h-3.8M81.5 754.21h3.8M499.6 754.21h-3.8M81.5 745.04h7M499.6 745.04h-7M81.5 735.88h3.8M499.6 735.88h-3.8M81.5 726.71h3.8M499.6 726.71h-3.8M81.5 717.55h3.8M499.6 717.55h-3.8M81.5 708.38h7M499.6 708.38h-7M81.5 699.22h3.8M499.6 699.22h-3.8" stroke="#000" stroke-width="1.0" fill="none"/>
<text x="81" y="985" font-size="20.6" text-anchor="middle" >0</text>
<text x="180.7" y="985" font-size="20.6" text-anchor="middle" >100</text>
<text x="280.4" y="985" font-size="20.6" text-anchor="middle" >200</text>
<text x="380.1" y="985" font-size="20.6" text-anchor="middle" >300</text>
<text x="479.8" y="985" font-size="20.6" text-anchor="middle" >400</text>
<text x="67.9" y="973.1" font-size="20.6" text-anchor="end" >0</text>
<text x="67.9" y="936.44" font-size="20.6" text-anchor="end" >2</text>
<text x="67.9" y="899.78" font-size="20.6" text-anchor="end" >4</text>
<text x="67.9" y="863.12" font-size="20.6" text-anchor="end" >6</text>
<text x="67.9" y="826.46" font-size="20.6" text-anchor="end" >8</text>
<text x="67.9" y="789.8" font-size="20.6" text-anchor="end" >10</text>
<text x="67.9" y="753.14" font-size="20.6" text-anchor="end" >12</text>
<text x="67.9" y="716.48" font-size="20.6" text-anchor="end" >14</text>
<text x="291.6" y="1007.5" font-size="21" text-anchor="middle" >MgATP Concentration (µM)</text>
<text x="0" y="0" font-size="20.8" text-anchor="start" transform="translate(31.2 924.7) rotate(-90)">Burst Rate (sec<tspan font-size="13.5" dy="-9.5">-1</tspan><tspan dy="9.5">)</tspan></text>
<text x="95.9" y="730.3" font-size="39" text-anchor="start" stroke="#000" stroke-width="0.4">C</text>
<path d="M81 965 L81.5 962.14 L82 959.33 L82.5 956.58 L82.99 953.89 L83.49 951.25 L83.99 948.67 L84.49 946.13 L84.99 943.64 L85.49 941.21 L85.98 938.81 L86.48 936.47 L86.98 934.16 L87.48 931.9 L87.98 929.69 L88.48 927.51 L88.98 925.37 L89.47 923.27 L89.97 921.2 L90.47 919.17 L90.97 917.18 L91.47 915.22 L91.97 913.3 L92.47 911.41 L92.96 909.55 L93.46 907.72 L93.96 905.92 L94.46 904.15 L94.96 902.41 L95.46 900.7 L95.95 899.01 L96.45 897.35 L96.95 895.72 L97.45 894.11 L97.95 892.53 L98.45 890.98 L98.95 889.44 L99.44 887.93 L99.94 886.44 L100.44 884.98 L100.94 883.53 L102.93 877.97 L104.93 872.71 L106.92 867.74 L108.92 863.03 L110.91 858.57 L112.9 854.33 L114.9 850.3 L116.89 846.46 L118.89 842.8 L120.88 839.31 L122.87 835.97 L124.87 832.78 L126.86 829.73 L128.86 826.81 L130.85 824 L132.84 821.31 L134.84 818.72 L136.83 816.23 L138.83 813.84 L140.82 811.54 L142.81 809.32 L144.81 807.18 L146.8 805.12 L148.8 803.12 L150.79 801.2 L152.78 799.34 L154.78 797.54 L156.77 795.8 L158.77 794.11 L160.76 792.48 L162.75 790.9 L164.75 789.37 L166.74 787.88 L168.74 786.43 L170.73 785.03 L172.72 783.67 L174.72 782.35 L176.71 781.06 L178.71 779.81 L180.7 778.59 L182.69 777.41 L184.69 776.26 L186.68 775.13 L188.68 774.04 L190.67 772.97 L192.66 771.93 L194.66 770.92 L196.65 769.93 L198.65 768.96 L200.64 768.02 L202.63 767.1 L204.63 766.2 L206.62 765.32 L208.62 764.47 L210.61 763.63 L212.6 762.81 L214.6 762.01 L216.59 761.22 L218.59 760.45 L220.58 759.7 L222.57 758.97 L224.57 758.25 L226.56 757.54 L228.56 756.85 L230.55 756.18 L232.54 755.51 L234.54 754.86 L236.53 754.23 L238.53 753.6 L240.52 752.99 L242.51 752.39 L244.51 751.8 L246.5 751.22 L248.5 750.65 L250.49 750.1 L252.48 749.55 L254.48 749.01 L256.47 748.48 L258.47 747.97 L260.46 747.46 L262.45 746.96 L264.45 746.47 L266.44 745.98 L268.44 745.51 L270.43 745.04 L272.42 744.58 L274.42 744.13 L276.41 743.69 L278.41 743.25 L280.4 742.82 L282.39 742.4 L284.39 741.98 L286.38 741.57 L288.38 741.17 L290.37 740.77 L292.36 740.38 L294.36 739.99 L296.35 739.61 L298.35 739.24 L300.34 738.87 L302.33 738.51 L304.33 738.15 L306.32 737.8 L308.32 737.46 L310.31 737.11 L312.3 736.78 L314.3 736.44 L316.29 736.12 L318.29 735.79 L320.28 735.48 L322.27 735.16 L324.27 734.85 L326.26 734.55 L328.26 734.25 L330.25 733.95 L332.24 733.66 L334.24 733.37 L336.23 733.08 L338.23 732.8 L340.22 732.52 L342.21 732.25 L344.21 731.98 L346.2 731.71 L348.2 731.45 L350.19 731.18 L352.18 730.93 L354.18 730.67 L356.17 730.42 L358.17 730.17 L360.16 729.93 L362.15 729.69 L364.15 729.45 L366.14 729.21 L368.14 728.98 L370.13 728.75 L372.12 728.52 L374.12 728.29 L376.11 728.07 L378.11 727.85 L380.1 727.63 L382.09 727.42 L384.09 727.21 L386.08 727 L388.08 726.79 L390.07 726.58 L392.06 726.38 L394.06 726.18 L396.05 725.98 L398.05 725.78 L400.04 725.59 L402.03 725.4 L404.03 725.21 L406.02 725.02 L408.02 724.83 L410.01 724.65 L412 724.46 L414 724.28 L415.99 724.11 L417.99 723.93 L419.98 723.75 L421.97 723.58 L423.97 723.41 L425.96 723.24 L427.96 723.07 L429.95 722.91 L431.94 722.74 L433.94 722.58 L435.93 722.42 L437.93 722.26 L439.92 722.1 L441.91 721.94 L443.91 721.79 L445.9 721.63 L447.9 721.48 L449.89 721.33 L451.88 721.18 L453.88 721.03 L455.87 720.89 L457.87 720.74 L459.86 720.6 L461.85 720.46 L463.85 720.32 L465.84 720.18 L467.84 720.04 L469.83 719.9 L471.82 719.77 L473.82 719.63 L475.81 719.5 L477.81 719.37 L479.8 719.23 L481.79 719.1 L483.79 718.98 L485.78 718.85 L487.78 718.72 L489.77 718.6 L491.76 718.47 L493.76 718.35 L495.75 718.23 L497.75 718.11 L499.74 717.99" stroke="#000" stroke-width="1.6" fill="none" clip-path="url(#cC)"/>
<polygon points="86.38,930.31 92.98,941.31 79.78,941.31" fill="#000"/>
<polygon points="91.47,913.81 98.07,924.81 84.87,924.81" fill="#000"/>
<polygon points="101.14,889.8 107.74,900.8 94.54,900.8" fill="#000"/>
<polygon points="110.41,834.26 117.01,845.26 103.81,845.26" fill="#000"/>
<polygon points="130.55,810.79 137.15,821.79 123.95,821.79" fill="#000"/>
<polygon points="155.48,792.28 162.08,803.28 148.88,803.28" fill="#000"/>
<polygon points="205.62,774.68 212.22,785.68 199.03,785.68" fill="#000"/>
<polygon points="279.9,746.82 286.5,757.82 273.3,757.82" fill="#000"/>
<polygon points="380.1,715.11 386.7,726.11 373.5,726.11" fill="#000"/>
<polygon points="479.8,708.33 486.4,719.33 473.2,719.33" fill="#000"/>
<polygon points="380.1,708.33 390.6,723.83 369.6,723.83" fill="none" stroke="#000" stroke-width="2" stroke-linejoin="miter"/>
<clipPath id="cCi"><rect x="259.3" y="796" width="219.5" height="123"/></clipPath>
<rect x="259.3" y="796" width="219.5" height="123" fill="#fff" stroke="#000" stroke-width="1.3"/>
<path d="M269.85 919v-2.5M269.85 796v2.5M280.3 919v-2.5M280.3 796v2.5M290.75 919v-2.5M290.75 796v2.5M301.2 919v-2.5M301.2 796v2.5M311.65 919v-4.5M311.65 796v4.5M322.1 919v-2.5M322.1 796v2.5M332.55 919v-2.5M332.55 796v2.5M343 919v-2.5M343 796v2.5M353.45 919v-2.5M353.45 796v2.5M363.9 919v-4.5M363.9 796v4.5M374.35 919v-2.5M374.35 796v2.5M384.8 919v-2.5M384.8 796v2.5M395.25 919v-2.5M395.25 796v2.5M405.7 919v-2.5M405.7 796v2.5M416.15 919v-4.5M416.15 796v4.5M426.6 919v-2.5M426.6 796v2.5M437.05 919v-2.5M437.05 796v2.5M447.5 919v-2.5M447.5 796v2.5M457.95 919v-2.5M457.95 796v2.5M468.4 919v-4.5M468.4 796v4.5M259.3 917.5h4.5M478.8 917.5h-4.5M259.3 911.86h2.5M478.8 911.86h-2.5M259.3 906.22h2.5M478.8 906.22h-2.5M259.3 900.58h2.5M478.8 900.58h-2.5M259.3 894.94h2.5M478.8 894.94h-2.5M259.3 889.3h4.5M478.8 889.3h-4.5M259.3 883.66h2.5M478.8 883.66h-2.5M259.3 878.02h2.5M478.8 878.02h-2.5M259.3 872.38h2.5M478.8 872.38h-2.5M259.3 866.74h2.5M478.8 866.74h-2.5M259.3 861.1h4.5M478.8 861.1h-4.5M259.3 855.46h2.5M478.8 855.46h-2.5M259.3 849.82h2.5M478.8 849.82h-2.5M259.3 844.18h2.5M478.8 844.18h-2.5M259.3 838.54h2.5M478.8 838.54h-2.5M259.3 832.9h4.5M478.8 832.9h-4.5M259.3 827.26h2.5M478.8 827.26h-2.5M259.3 821.62h2.5M478.8 821.62h-2.5M259.3 815.98h2.5M478.8 815.98h-2.5M259.3 810.34h2.5M478.8 810.34h-2.5M259.3 804.7h4.5M478.8 804.7h-4.5M259.3 799.06h2.5M478.8 799.06h-2.5" stroke="#000" stroke-width="1" fill="none"/>
<text x="259.4" y="933.6" font-size="14.2" text-anchor="middle"  style="stroke:none">0</text>
<text x="311.65" y="933.6" font-size="14.2" text-anchor="middle"  style="stroke:none">100</text>
<text x="363.9" y="933.6" font-size="14.2" text-anchor="middle"  style="stroke:none">200</text>
<text x="416.15" y="933.6" font-size="14.2" text-anchor="middle"  style="stroke:none">300</text>
<text x="468.4" y="933.6" font-size="14.2" text-anchor="middle"  style="stroke:none">400</text>
<text x="252.8" y="922.5" font-size="14.2" text-anchor="end"  style="stroke:none">0</text>
<text x="252.8" y="894.3" font-size="14.2" text-anchor="end"  style="stroke:none">1</text>
<text x="252.8" y="866.1" font-size="14.2" text-anchor="end"  style="stroke:none">2</text>
<text x="252.8" y="837.9" font-size="14.2" text-anchor="end"  style="stroke:none">3</text>
<text x="252.8" y="809.7" font-size="14.2" text-anchor="end"  style="stroke:none">4</text>
<text x="371.7" y="947.6" font-size="13.8" text-anchor="middle"  style="stroke:none">MgATP Concentration (µM)</text>
<text x="0" y="0" font-size="13.8" text-anchor="middle" transform="translate(234.1 859) rotate(-90)" style="stroke:none">Burst Amplitude (µM)</text>
<path d="M259.4 917.5 L259.53 916.54 L259.66 915.59 L259.79 914.67 L259.92 913.75 L260.05 912.86 L260.18 911.98 L260.31 911.11 L260.44 910.26 L260.58 909.43 L260.71 908.61 L260.84 907.8 L260.97 907 L261.1 906.22 L261.23 905.45 L261.36 904.69 L261.49 903.95 L261.62 903.22 L261.75 902.49 L261.88 901.78 L262.01 901.08 L262.14 900.4 L262.27 899.72 L262.4 899.05 L262.53 898.39 L262.67 897.74 L262.8 897.1 L262.93 896.47 L263.06 895.85 L263.19 895.24 L263.32 894.64 L263.45 894.05 L263.58 893.46 L263.71 892.88 L263.84 892.31 L263.97 891.75 L264.1 891.2 L264.23 890.65 L264.36 890.11 L264.49 889.58 L264.62 889.06 L265.67 885.1 L266.71 881.53 L267.76 878.29 L268.8 875.33 L269.85 872.62 L270.89 870.13 L271.94 867.84 L272.98 865.71 L274.03 863.74 L275.07 861.91 L276.12 860.2 L277.16 858.6 L278.21 857.11 L279.25 855.7 L280.3 854.38 L281.34 853.13 L282.39 851.96 L283.43 850.85 L284.48 849.79 L285.52 848.79 L286.57 847.85 L287.61 846.94 L288.66 846.09 L289.7 845.27 L290.75 844.49 L291.79 843.74 L292.84 843.03 L293.88 842.35 L294.93 841.69 L295.97 841.07 L297.02 840.46 L298.06 839.89 L299.11 839.33 L300.15 838.8 L301.2 838.28 L302.25 837.78 L303.29 837.31 L304.33 836.85 L305.38 836.4 L306.42 835.97 L307.47 835.55 L308.51 835.15 L309.56 834.76 L310.6 834.39 L311.65 834.02 L312.69 833.67 L313.74 833.33 L314.78 832.99 L315.83 832.67 L316.88 832.36 L317.92 832.05 L318.96 831.76 L320.01 831.47 L321.05 831.19 L322.1 830.92 L323.14 830.66 L324.19 830.4 L325.23 830.15 L326.28 829.9 L327.32 829.66 L328.37 829.43 L329.41 829.21 L330.46 828.98 L331.5 828.77 L332.55 828.56 L333.59 828.35 L334.64 828.15 L335.68 827.96 L336.73 827.76 L337.77 827.58 L338.82 827.39 L339.86 827.22 L340.91 827.04 L341.95 826.87 L343 826.7 L344.04 826.54 L345.09 826.38 L346.13 826.22 L347.18 826.06 L348.22 825.91 L349.27 825.77 L350.31 825.62 L351.36 825.48 L352.4 825.34 L353.45 825.2 L354.5 825.07 L355.54 824.94 L356.58 824.81 L357.63 824.68 L358.67 824.56 L359.72 824.43 L360.76 824.31 L361.81 824.2 L362.85 824.08 L363.9 823.97 L364.94 823.86 L365.99 823.75 L367.03 823.64 L368.08 823.53 L369.12 823.43 L370.17 823.33 L371.21 823.22 L372.26 823.13 L373.3 823.03 L374.35 822.93 L375.39 822.84 L376.44 822.74 L377.48 822.65 L378.53 822.56 L379.57 822.47 L380.62 822.39 L381.66 822.3 L382.71 822.22 L383.75 822.13 L384.8 822.05 L385.84 821.97 L386.89 821.89 L387.93 821.81 L388.98 821.73 L390.02 821.66 L391.07 821.58 L392.12 821.51 L393.16 821.44 L394.2 821.36 L395.25 821.29 L396.29 821.22 L397.34 821.15 L398.38 821.09 L399.43 821.02 L400.47 820.95 L401.52 820.89 L402.56 820.82 L403.61 820.76 L404.65 820.7 L405.7 820.63 L406.75 820.57 L407.79 820.51 L408.83 820.45 L409.88 820.39 L410.92 820.33 L411.97 820.28 L413.01 820.22 L414.06 820.16 L415.1 820.11 L416.15 820.05 L417.19 820 L418.24 819.95 L419.28 819.89 L420.33 819.84 L421.38 819.79 L422.42 819.74 L423.46 819.69 L424.51 819.64 L425.55 819.59 L426.6 819.54 L427.64 819.49 L428.69 819.45 L429.73 819.4 L430.78 819.35 L431.82 819.31 L432.87 819.26 L433.91 819.22 L434.96 819.17 L436 819.13 L437.05 819.09 L438.09 819.04 L439.14 819 L440.18 818.96 L441.23 818.92 L442.27 818.88 L443.32 818.84 L444.36 818.79 L445.41 818.76 L446.45 818.72 L447.5 818.68 L448.54 818.64 L449.59 818.6 L450.63 818.56 L451.68 818.52 L452.72 818.49 L453.77 818.45 L454.81 818.41 L455.86 818.38 L456.9 818.34 L457.95 818.31 L459 818.27 L460.04 818.24 L461.08 818.2 L462.13 818.17 L463.17 818.14 L464.22 818.1 L465.26 818.07 L466.31 818.04 L467.35 818 L468.4 817.97 L469.44 817.94 L470.49 817.91 L471.53 817.88 L472.58 817.85 L473.62 817.82 L474.67 817.79 L475.71 817.76 L476.76 817.73 L477.8 817.7 L478.85 817.67 L479.89 817.64 L480.94 817.61 L481.98 817.58 L483.03 817.55 L484.07 817.53" stroke="#000" stroke-width="2.0" fill="none" clip-path="url(#cCi)"/>
<polygon points="262.01,896.58 267.61,905.78 256.41,905.78" fill="#000"/>
<polygon points="264.62,883.04 270.23,892.24 259.02,892.24" fill="#000"/>
<polygon points="269.85,871.2 275.45,880.4 264.25,880.4" fill="#000"/>
<polygon points="275.07,866.69 280.68,875.89 269.47,875.89" fill="#000"/>
<polygon points="285.52,841.31 291.12,850.51 279.92,850.51" fill="#000"/>
<polygon points="298.59,844.69 304.19,853.89 292.99,853.89" fill="#000"/>
<polygon points="311.65,822.98 317.25,832.18 306.05,832.18" fill="#000"/>
<polygon points="324.71,827.49 330.31,836.69 319.11,836.69" fill="#000"/>
<polygon points="337.77,821.57 343.38,830.77 332.17,830.77" fill="#000"/>
<polygon points="363.9,826.64 369.5,835.84 358.3,835.84" fill="#000"/>
<polygon points="416.15,816.77 421.75,825.97 410.55,825.97" fill="#000"/>
<polygon points="468.4,808.03 474,817.23 462.8,817.23" fill="#000"/>
<polygon points="416.15,802.16 422.15,811.76 410.15,811.76" fill="none" stroke="#000" stroke-width="1.3" stroke-linejoin="miter"/>
<rect x="475.24" y="309.98" width="4.28" height="3.62" fill="#fff"/>
<rect x="481.6" y="309.98" width="4.12" height="3.62" fill="#fff"/>
<rect x="45.76" y="119.88" width="4.28" height="3.62" fill="#fff"/>
<rect x="52.12" y="119.88" width="4.12" height="3.62" fill="#fff"/>
<rect x="45.76" y="62.68" width="4.28" height="3.62" fill="#fff"/>
<rect x="52.12" y="62.68" width="4.12" height="3.62" fill="#fff"/>
<rect x="308.92" y="219.48" width="2.73" height="2.77" fill="#fff"/>
<rect x="312.62" y="219.48" width="2.64" height="2.77" fill="#fff"/>
<rect x="239.63" y="646.98" width="4.28" height="3.62" fill="#fff"/>
<rect x="245.99" y="646.98" width="4.12" height="3.62" fill="#fff"/>
<rect x="311.4" y="646.98" width="4.28" height="3.62" fill="#fff"/>
<rect x="317.76" y="646.98" width="4.12" height="3.62" fill="#fff"/>
<rect x="57.21" y="595.03" width="4.28" height="3.62" fill="#fff"/>
<rect x="63.57" y="595.03" width="4.12" height="3.62" fill="#fff"/>
<rect x="164.28" y="982.98" width="4.28" height="3.62" fill="#fff"/>
<rect x="170.65" y="982.98" width="4.12" height="3.62" fill="#fff"/>
<rect x="45.76" y="787.78" width="4.28" height="3.62" fill="#fff"/>
<rect x="52.12" y="787.78" width="4.12" height="3.62" fill="#fff"/>
<rect x="45.76" y="751.12" width="4.28" height="3.62" fill="#fff"/>
<rect x="52.12" y="751.12" width="4.12" height="3.62" fill="#fff"/>
<rect x="45.76" y="714.46" width="4.28" height="3.62" fill="#fff"/>
<rect x="52.12" y="714.46" width="4.12" height="3.62" fill="#fff"/>
<rect x="300.09" y="932.19" width="3.29" height="3.01" fill="#fff"/>
<rect x="304.63" y="932.19" width="3.18" height="3.01" fill="#fff"/>
<rect x="245.18" y="892.89" width="3.29" height="3.01" fill="#fff"/>
<rect x="249.73" y="892.89" width="3.18" height="3.01" fill="#fff"/>
</svg>
</body></html>
